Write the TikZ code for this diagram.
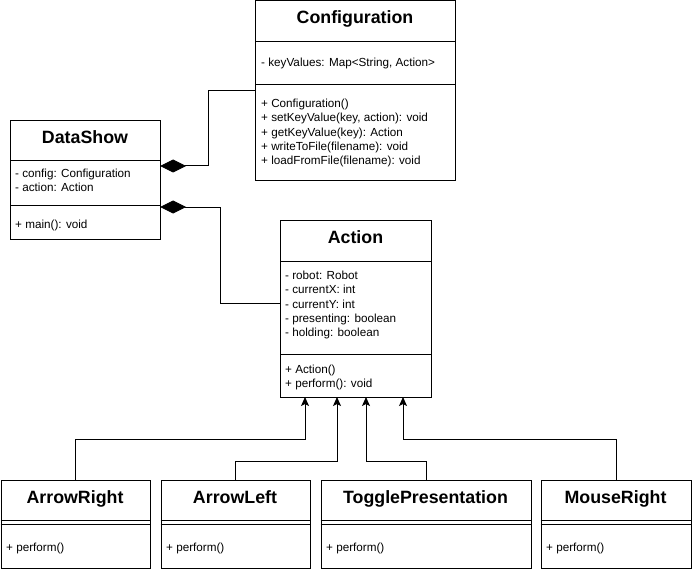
\documentclass[tikz,border=0pt]{standalone}
\usepackage{fontspec}
\setmainfont{Liberation Sans}
\usetikzlibrary{arrows.meta}
\tikzset{
  box/.style={draw=black, line width=1pt, fill=white, inner sep=0pt, anchor=north west},
  divider/.style={draw=black, line width=1pt},
  ttl/.style={font=\bfseries\fontsize{17.8}{20}\selectfont, inner sep=0pt, anchor=base},
  txt/.style={font=\fontsize{11.7}{14.2}\selectfont, inner sep=0pt, anchor=west, align=left},
  conn/.style={draw=black, line width=1pt},
  comp/.style={conn, -{Diamond[length=26pt,width=13pt]}},
  gen/.style={conn, -{Stealth[length=9pt,width=8pt,inset=2pt]}}
}
\begin{document}
\begin{tikzpicture}[x=1pt,y=-1pt]
\useasboundingbox (0,0) rectangle (692,569);
\fill[white] (0,0) rectangle (692,569);

% Configuration
\node[box, minimum width=200pt, minimum height=180pt] (conf) at (255,0.5) {};
\draw[divider] (255,41.5) -- (455,41.5);
\draw[divider] (255,84.5) -- (455,84.5);
\node[ttl] (confT) at (355,23.5) {Configuration};
\node[txt] (confA) at (261,63) {- keyValues: Map<String, Action>};
\node[txt] (confM) at (261,133) {+ Configuration()\\+ setKeyValue(key, action): void\\+ getKeyValue(key): Action\\+ writeToFile(filename): void\\+ loadFromFile(filename): void};

% DataShow
\node[box, minimum width=150pt, minimum height=119pt] (ds) at (10,120) {};
\draw[divider] (10,160.5) -- (160,160.5);
\draw[divider] (10,205) -- (160,205);
\node[ttl] (dsT) at (85,143.3) {DataShow};
\node[txt] (dsA) at (15,180) {- config: Configuration\\- action: Action};
\node[txt] (dsM) at (15,225) {+ main(): void};

% Action
\node[box, minimum width=151pt, minimum height=177pt] (act) at (280,220) {};
\draw[divider] (280,261) -- (431,261);
\draw[divider] (280,354) -- (431,354);
\node[ttl] (actT) at (355.5,243.3) {Action};
\node[txt] (actA) at (285,305) {- robot: Robot\\- currentX: int\\- currentY: int\\- presenting: boolean\\- holding: boolean};
\node[txt] (actM) at (285,377.5) {+ Action()\\+ perform(): void};

% Subclasses
\node[box, minimum width=149.5pt, minimum height=88pt] (ar) at (0.5,480) {};
\draw[divider] (0.5,520.5) -- (150,520.5);
\draw[divider] (0.5,524.5) -- (150,524.5);
\node[ttl] (arT) at (75,503.3) {ArrowRight};
\node[txt] (arM) at (6,548) {+ perform()};

\node[box, minimum width=149.5pt, minimum height=88pt] (al) at (160.5,480) {};
\draw[divider] (160.5,520.5) -- (310,520.5);
\draw[divider] (160.5,524.5) -- (310,524.5);
\node[ttl] (alT) at (235,503.3) {ArrowLeft};
\node[txt] (alM) at (166,548) {+ perform()};

\node[box, minimum width=210pt, minimum height=88pt] (tp) at (320.5,480) {};
\draw[divider] (320.5,520.5) -- (530.5,520.5);
\draw[divider] (320.5,524.5) -- (530.5,524.5);
\node[ttl] (tpT) at (425.5,503.3) {TogglePresentation};
\node[txt] (tpM) at (326,548) {+ perform()};

\node[box, minimum width=150pt, minimum height=88pt] (mr) at (540.5,480) {};
\draw[divider] (540.5,520.5) -- (690.5,520.5);
\draw[divider] (540.5,524.5) -- (690.5,524.5);
\node[ttl] (mrT) at (615.5,503.3) {MouseRight};
\node[txt] (mrM) at (546,548) {+ perform()};

% anchor coordinates
\coordinate (dsC) at (160,166);
\coordinate (dsD) at (160,207);
\coordinate (actW) at (280,303);
\coordinate (b1) at (305,397);
\coordinate (b2) at (337,397);
\coordinate (b3) at (366,397);
\coordinate (b4) at (403,397);

% compositions
\draw[comp] (conf.west) -- ++(-47,0) |- (dsC);
\draw[comp] (actW) -- ++(-60,0) |- (dsD);

% generalizations
\draw[gen] (ar.north) -- ++(0,-41) -| (b1);
\draw[gen] (al.north) -- ++(0,-19) -| (b2);
\draw[gen] (tp.north) -- ++(0,-19) -| (b3);
\draw[gen] (mr.north) -- ++(0,-41) -| (b4);
\end{tikzpicture}
\end{document}
